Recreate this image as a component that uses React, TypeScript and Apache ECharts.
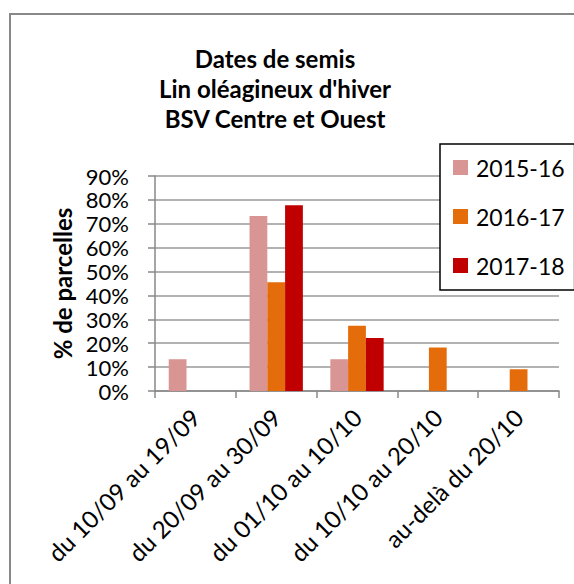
import React, { useEffect, useRef } from "react";
import * as echarts from "echarts";

const categories = [
  "du 10/09 au 19/09",
  "du 20/09 au 30/09",
  "du 01/10 au 10/10",
  "du 10/10 au 20/10",
  "au-delà du 20/10",
];
const seriesNames = ["2015-16", "2016-17", "2017-18"];
const values2015 = [13.3, 73.3, 13.3, 0, 0];
const values2016 = [0, 45.5, 27.3, 18.2, 9.1];
const values2017 = [0, 77.8, 22.2, 0, 0];
const colors = ["#D99594", "#E46C0A", "#C00000"];
const titleLines = ["Dates de semis", "Lin oléagineux d'hiver", "BSV Centre et Ouest"];

const FONT = "Lato";

export default function App() {
  const ref = useRef<HTMLDivElement>(null);
  useEffect(() => {
    if (!ref.current) return;
    const chart = echarts.init(ref.current, null, { renderer: "svg" });
    const data = [values2015, values2016, values2017];
    chart.setOption({
      animation: false,
      backgroundColor: "#fff",
      textStyle: { fontFamily: FONT },
      title: {
        text: titleLines.join("\n"),
        left: 275,
        textAlign: "center",
        top: 43,
        padding: 0,
        textStyle: {
          fontFamily: FONT,
          fontWeight: "bold",
          fontSize: 24,
          lineHeight: 30,
          color: "#000",
        },
      },
      graphic: [
        {
          type: "rect",
          shape: { x: 10, y: 14, width: 700, height: 700 },
          style: { fill: "none", stroke: "#888", lineWidth: 2 },
          silent: true,
        },
      ],
      legend: {
        orient: "vertical",
        left: 440,
        top: 144,
        width: 120,
        padding: [12, 10, 13, 13],
        itemGap: 26,
        itemWidth: 15,
        itemHeight: 15,
        icon: "rect",
        backgroundColor: "#fff",
        borderColor: "#000",
        borderWidth: 1.5,
        borderRadius: 0,
        textStyle: { fontFamily: FONT, fontSize: 23, color: "#000", padding: [0, 0, 0, 3] },
        data: seriesNames,
      },
      grid: { left: 155, right: 15, top: 176, bottom: 193, containLabel: false },
      xAxis: {
        type: "category",
        data: categories,
        axisLine: { lineStyle: { color: "#888", width: 1.5 } },
        axisTick: { show: true, length: 7, lineStyle: { color: "#888", width: 1.5 } },
        axisLabel: {
          interval: 0,
          rotate: 45,
          margin: 22,
          fontFamily: FONT,
          fontSize: 24,
          color: "#000",
        },
      },
      yAxis: {
        type: "value",
        min: 0,
        max: 90,
        interval: 10,
        name: "% de parcelles",
        nameLocation: "middle",
        nameRotate: 90,
        nameGap: 80,
        nameTextStyle: { fontFamily: FONT, fontWeight: "bold", fontSize: 24, color: "#000" },
        axisLine: { show: true, lineStyle: { color: "#888", width: 1.5 } },
        axisTick: { show: true, length: 7, lineStyle: { color: "#888", width: 1.5 } },
        splitLine: { show: true, lineStyle: { color: "#999", width: 1.5 } },
        axisLabel: {
          formatter: "{value}%",
          margin: 26,
          fontFamily: FONT,
          fontSize: 22,
          lineHeight: 22,
          color: "#000",
        },
      },
      series: seriesNames.map((name, i) => ({
        name,
        type: "bar",
        data: data[i],
        itemStyle: { color: colors[i] },
        barGap: "0%",
        barCategoryGap: "34%",
      })),
    });
    return () => chart.dispose();
  }, []);
  return (
    <div
      ref={ref}
      style={{ position: "fixed", left: 0, top: 0, width: 574, height: 584 }}
    />
  );
}
